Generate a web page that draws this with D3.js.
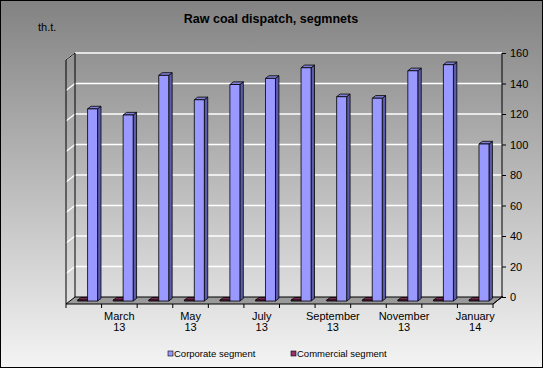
<!DOCTYPE html>
<html>
<head>
<meta charset="utf-8">
<script src="https://cdn.jsdelivr.net/npm/d3@7"></script>
<style>
  body { margin: 0; }
  svg { display: block; font-family: Arial, "Liberation Sans", sans-serif; }
</style>
</head>
<body>
<div id="container"></div>
<script>
// DATA

const months = ["February", "March", "April", "May", "June", "July",
                "August", "September", "October", "November", "December", "January"]
const years = ["13", "13", "13", "13", "13", "13", "13", "13", "13", "13", "13", "14"]
const corporate = [126, 122, 148, 132, 142, 146, 153, 134, 133, 151, 155, 103]
const commercial = [0.6, 0.6, 0.6, 0.6, 0.6, 0.6, 0.6, 0.6, 0.6, 0.6, 0.6, 0.6]
const yTicks = [0, 20, 40, 60, 80, 100, 120, 140, 160]
const seriesNames = ["Corporate segment", "Commercial segment"]

// VARIABLES

const width = 543,
      height = 368,
      depthX = -9, depthY = 7   // back wall -> front edge of floor

const colors = {
  "Corporate segment": {front: "#9999ff", side: "#5c5cad", top: "#7f7fd4"},
  "Commercial segment": {front: "#993366", side: "#5e1f3f", top: "#7a2952"}
}

const cats = months.map((m, i) => i)

// SCALES (on the back wall)

const xScale = d3.scaleBand()
    .domain(cats)
    .range([75, 502])

const xSub = d3.scaleBand()
    .domain(["Commercial segment", "Corporate segment"])
    .range([0, xScale.bandwidth()])
    .paddingOuter(0.78)

const yScale = d3.scaleLinear()
    .domain([0, 160])
    .range([297, 53])

// ELEMENTS

const svg = d3.select("#container")
  .append("svg")
    .attr("width", width)
    .attr("height", height)

const grad = svg.append("defs").append("linearGradient")
    .attr("id", "bg").attr("x1", 0).attr("y1", 0).attr("x2", 0).attr("y2", 1)
grad.append("stop").attr("offset", 0).attr("stop-color", "#828282")
grad.append("stop").attr("offset", 1).attr("stop-color", "#f4f4f4")

svg.append("rect")
    .attr("x", 0.5).attr("y", 0.5)
    .attr("width", width - 1).attr("height", height - 1)
    .attr("fill", "url(#bg)")
    .attr("stroke", "#000")

// title
svg.append("text")
    .attr("x", 271).attr("y", 23)
    .attr("text-anchor", "middle")
    .attr("font-size", 12.5).attr("font-weight", "bold")
    .text("Raw coal dispatch, segmnets")

svg.append("text")
    .attr("x", 38).attr("y", 31)
    .attr("font-size", 11)
    .text("th.t.")

const x0 = xScale.range()[0], x1 = xScale.range()[1]

// gridlines: back wall + left side wall
const grid = svg.append("g").attr("stroke", "#fff").attr("stroke-width", 1.3)
grid.selectAll("line.back")
  .data(yTicks.filter(d => d > 0))
  .join("line")
    .attr("x1", x0).attr("x2", x1)
    .attr("y1", d => yScale(d)).attr("y2", d => yScale(d))
grid.selectAll("line.side")
  .data(yTicks.filter(d => d > 0))
  .join("line")
    .attr("class", "side")
    .attr("x1", x0 + depthX).attr("y1", d => yScale(d) + depthY)
    .attr("x2", x0).attr("y2", d => yScale(d))

// wall edges
const edges = svg.append("g").attr("stroke", "#000").attr("fill", "none")
edges.append("line")
    .attr("x1", x0).attr("x2", x0).attr("y1", yScale(160)).attr("y2", yScale(0))
edges.append("line")
    .attr("x1", x0 + depthX).attr("x2", x0 + depthX)
    .attr("y1", yScale(160) + depthY).attr("y2", yScale(0) + depthY)
edges.append("line")
    .attr("x1", x0 + depthX).attr("y1", yScale(160) + depthY)
    .attr("x2", x0).attr("y2", yScale(160))

// floor
svg.append("path")
    .attr("d", `M${x0},${yScale(0)}L${x1},${yScale(0)}L${x1 + depthX},${yScale(0) + depthY}L${x0 + depthX},${yScale(0) + depthY}Z`)
    .attr("fill", "#9a9a9a")
    .attr("stroke", "#000")

// right value axis
const yAxis = d3.axisRight(yScale)
    .tickValues(yTicks)
    .tickSize(4)
    .tickPadding(4)

svg.append("g")
    .attr("transform", `translate(${x1},0)`)
    .call(yAxis)
    .call(g => g.select(".domain").attr("d", `M0,${yScale(160)}V${yScale(0)}`))
    .call(g => g.selectAll("text").attr("font-size", 11).attr("fill", "#000").attr("font-family", "Arial, 'Liberation Sans', sans-serif"))

svg.append("line")
    .attr("x1", x1 + depthX).attr("y1", yScale(0) + depthY)
    .attr("x2", x1 + 1).attr("y2", yScale(0) - 1)
    .attr("stroke", "#000")

// category axis on front edge of floor
const xFront = d3.scaleBand()
    .domain(cats)
    .range([x0 + depthX, x1 + depthX])

const xAxis = d3.axisBottom(xFront)
    .tickSize(0)
    .tickFormat("")

const xg = svg.append("g")
    .attr("transform", `translate(0,${yScale(0) + depthY})`)
xg.selectAll("line")
  .data(d3.range(cats.length + 1))
  .join("line")
    .attr("x1", i => xFront.range()[0] + i * xFront.step())
    .attr("x2", i => xFront.range()[0] + i * xFront.step())
    .attr("y1", 0).attr("y2", 4)
    .attr("stroke", "#000")

const lbl = xg.selectAll("text")
  .data(cats.filter(i => i % 2 === 1))
  .join("text")
    .attr("text-anchor", "middle")
    .attr("font-size", 11)
    .attr("transform", i => `translate(${xFront(i) + xFront.bandwidth() / 2},0)`)
lbl.append("tspan").attr("x", 0).attr("y", 16).text(i => months[i])
lbl.append("tspan").attr("x", 0).attr("y", 27).text(i => years[i])

// SELECT-JOIN-DRAW bars

const fFront = 0.58, fBack = 0.2
const bars = []
cats.forEach(i => {
  bars.push({i, s: "Commercial segment", v: commercial[i]})
  bars.push({i, s: "Corporate segment", v: corporate[i]})
})

const barG = svg.append("g")
    .attr("stroke", "#000")
    .attr("stroke-width", 0.8)
    .attr("stroke-linejoin", "round")
  .selectAll("g")
  .data(bars)
  .join("g")

const geo = d => {
  const bx = xScale(d.i) + xSub(d.s)
  const w = xSub.bandwidth()
  const fx = bx + depthX * fFront, fy0 = yScale(0) + depthY * fFront, fy1 = yScale(d.v) + depthY * fFront
  const ddx = depthX * (fBack - fFront), ddy = depthY * (fBack - fFront)
  return {fx, fy0, fy1, w, ddx, ddy}
}

barG.append("path")
    .attr("fill", d => colors[d.s].side)
    .attr("d", d => {
      const g = geo(d)
      return `M${g.fx + g.w},${g.fy0}L${g.fx + g.w + g.ddx},${g.fy0 + g.ddy}L${g.fx + g.w + g.ddx},${g.fy1 + g.ddy}L${g.fx + g.w},${g.fy1}Z`
    })
barG.append("path")
    .attr("fill", d => colors[d.s].top)
    .attr("d", d => {
      const g = geo(d)
      return `M${g.fx},${g.fy1}L${g.fx + g.ddx},${g.fy1 + g.ddy}L${g.fx + g.w + g.ddx},${g.fy1 + g.ddy}L${g.fx + g.w},${g.fy1}Z`
    })
barG.append("rect")
    .attr("fill", d => colors[d.s].front)
    .attr("x", d => geo(d).fx)
    .attr("y", d => geo(d).fy1)
    .attr("width", d => geo(d).w)
    .attr("height", d => geo(d).fy0 - geo(d).fy1)

// LEGEND

const legend = svg.append("g")
  .selectAll("g")
  .data(seriesNames)
  .join("g")
    .attr("transform", (d, i) => `translate(${[168, 291][i]},351)`)
legend.append("rect")
    .attr("width", 5).attr("height", 5)
    .attr("fill", d => colors[d].front)
    .attr("stroke", "#000").attr("stroke-width", 0.6)
legend.append("text")
    .attr("x", 6).attr("y", 5.5)
    .attr("font-size", 9.5)
    .text(d => d)
</script>
</body>
</html>
